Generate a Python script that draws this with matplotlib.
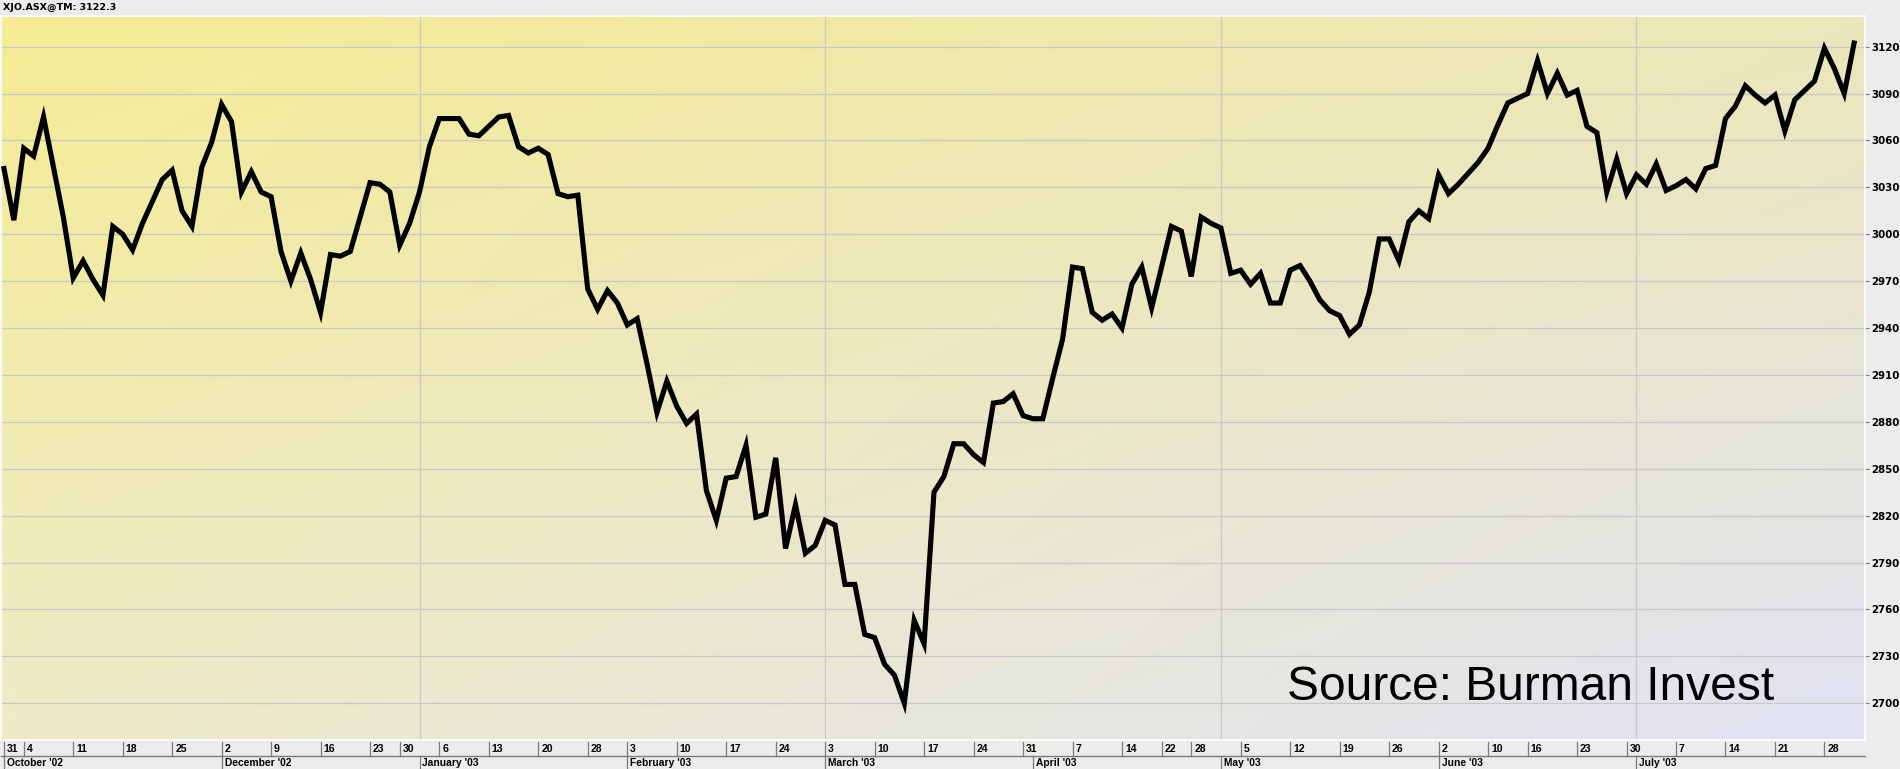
"""
XJO (ASX 200) daily close, Oct 2002 - Jul 2003, plotted on a trading-day axis
"""

import matplotlib

matplotlib.use("Agg")
import matplotlib.pyplot as plt
import numpy as np
import pandas as pd
from matplotlib.transforms import blended_transform_factory

# trading calendar (ASX holidays inside the window)
START = "2002-10-31"
END = "2003-07-31"
HOLIDAYS = ["2002-12-25", "2002-12-26", "2003-01-01", "2003-01-27",
            "2003-04-18", "2003-04-21", "2003-04-25", "2003-06-09"]

# daily closes, one per trading day
CLOSE = [
    3042, 3009, 3055, 3050, 3075, 3043, 3011, 2972, 2983, 2971,
    2961, 3005, 3000, 2990, 3007, 3021, 3035, 3041, 3015, 3005,
    3043, 3059, 3083, 3072, 3027, 3040, 3027, 3024, 2989, 2970,
    2988, 2971, 2950, 2987, 2986, 2989, 3011, 3033, 3032, 3027,
    2993, 3007, 3027, 3056, 3074, 3074, 3074, 3064, 3063, 3069,
    3075, 3076, 3056, 3052, 3055, 3051, 3026, 3024, 3025, 2965,
    2952, 2964, 2956, 2942, 2946, 2917, 2886, 2906, 2890, 2879,
    2885, 2836, 2817, 2844, 2845, 2865, 2819, 2821, 2857, 2799,
    2827, 2796, 2801, 2817, 2814, 2776, 2776, 2744, 2742, 2725,
    2718, 2700, 2753, 2738, 2835, 2845, 2866, 2866, 2859, 2854,
    2892, 2893, 2898, 2884, 2882, 2882, 2908, 2933, 2979, 2978,
    2950, 2945, 2949, 2940, 2968, 2979, 2953, 2979, 3005, 3002,
    2973, 3011, 3007, 3004, 2975, 2977, 2968, 2975, 2956, 2956,
    2977, 2980, 2970, 2958, 2951, 2948, 2936, 2942, 2963, 2997,
    2997, 2983, 3008, 3015, 3010, 3038, 3026, 3032, 3039, 3046,
    3055, 3070, 3084, 3087, 3090, 3111, 3090, 3103, 3089, 3092,
    3069, 3065, 3027, 3048, 3026, 3038, 3032, 3045, 3028, 3031,
    3035, 3029, 3042, 3044, 3074, 3082, 3095, 3089, 3084, 3089,
    3066, 3086, 3092, 3098, 3119, 3106, 3090, 3122.3,
]

MONTH_STARTS = ["2002-10-31", "2002-12-02", "2003-01-02", "2003-02-03",
                "2003-03-03", "2003-04-01", "2003-05-01", "2003-06-02",
                "2003-07-01"]
MONTH_LABELS = ["October '02", "December '02", "January '03", "February '03",
                "March '03", "April '03", "May '03", "June '03", "July '03"]
GRID_DATES = ["2003-01-02", "2003-03-03", "2003-05-01", "2003-07-01"]
Y_TICKS = list(range(2700, 3121, 30))
TITLE = "XJO.ASX@TM: 3122.3"
SOURCE = "Source: Burman Invest"

W, H = 1900, 769


def main():
    days = pd.bdate_range(START, END, freq="C", holidays=HOLIDAYS)
    idx = pd.Series(np.arange(len(days)), index=days)
    x = np.arange(len(CLOSE))

    # first trading day of every week -> tick row
    wk = days.isocalendar().week.values
    week_pos = [0] + [i for i in range(1, len(days)) if wk[i] != wk[i - 1]]

    fig = plt.figure(figsize=(W / 100, H / 100), dpi=100, facecolor="#ececec")
    ax = fig.add_axes([1 / W, 1 - 740 / H, 1864 / W, 724 / H])

    # background: yellow top-left fading to lavender bottom-right
    tl = np.array([245, 236, 148]) / 255
    tr = np.array([235, 231, 186]) / 255
    bl = np.array([238, 235, 200]) / 255
    br = np.array([225, 226, 244]) / 255
    xx, yy = np.meshgrid(np.linspace(0, 1, 400), np.linspace(0, 1, 200))
    xx, yy = xx[..., None], yy[..., None]
    img = tl * (1 - xx) * (1 - yy) + tr * xx * (1 - yy) + bl * (1 - xx) * yy + br * xx * yy
    ax.imshow(img, extent=(0, 1, 0, 1), transform=ax.transAxes, origin="upper",
              aspect="auto", zorder=0)

    for v in Y_TICKS:
        ax.axhline(v, color="#c8c8c8", lw=0.9, zorder=1)
    for d in GRID_DATES:
        ax.axvline(idx[pd.Timestamp(d)], color="#c8c8c8", lw=0.9, zorder=1)

    ax.plot(x, CLOSE, color="black", lw=3.7, solid_joinstyle="miter", zorder=3)

    ax.set_xlim(-0.3, 188.1)
    ax.set_ylim(2676.5, 3139.6)
    ax.set_xticks([])
    ax.yaxis.tick_right()
    ax.set_yticks(Y_TICKS)
    ax.set_yticklabels([str(v) for v in Y_TICKS])
    ax.tick_params(axis="y", length=3, width=0.8, color="#777777", pad=1.5,
                   labelsize=7.4)
    for lab in ax.get_yticklabels():
        lab.set_fontweight("bold")
    for s in ax.spines.values():
        s.set_color("white")
        s.set_linewidth(1.2)

    # date rows under the plot
    tr_x = blended_transform_factory(ax.transData, fig.transFigure)
    y_row1_top, y_sep, y_bot = 1 - 742 / H, 1 - 756 / H, 0.0
    ax.plot([-0.3, 188.1], [y_sep, y_sep], transform=tr_x, color="#7a7a7a",
            lw=1.0, clip_on=False)
    for p in week_pos:
        ax.plot([p, p], [y_row1_top, y_sep], transform=tr_x, color="#7a7a7a",
                lw=0.9, clip_on=False)
        ax.text(p + 0.3, 1 - 749.5 / H, str(days[p].day), transform=tr_x,
                ha="left", va="center", fontsize=7.6, fontweight="bold",
                family="Liberation Sans")
    for d, lab in zip(MONTH_STARTS, MONTH_LABELS):
        p = idx[pd.Timestamp(d)]
        ax.plot([p, p], [y_sep, y_bot], transform=tr_x, color="#7a7a7a",
                lw=0.9, clip_on=False)
        ax.text(p + 0.3, 1 - 763 / H, lab, transform=tr_x, ha="left",
                va="center", fontsize=7.4, fontweight="bold",
                family="Liberation Sans")

    fig.text(3 / W, 1 - 7 / H, TITLE, ha="left", va="center", fontsize=6.8,
             fontweight="bold")
    fig.text(1287 / W, 1 - 700 / H, SOURCE, ha="left", va="baseline",
             fontsize=34.5, family="Liberation Sans")

    fig.savefig("out.png", dpi=100, facecolor=fig.get_facecolor())
    plt.close(fig)


if __name__ == "__main__":
    main()
